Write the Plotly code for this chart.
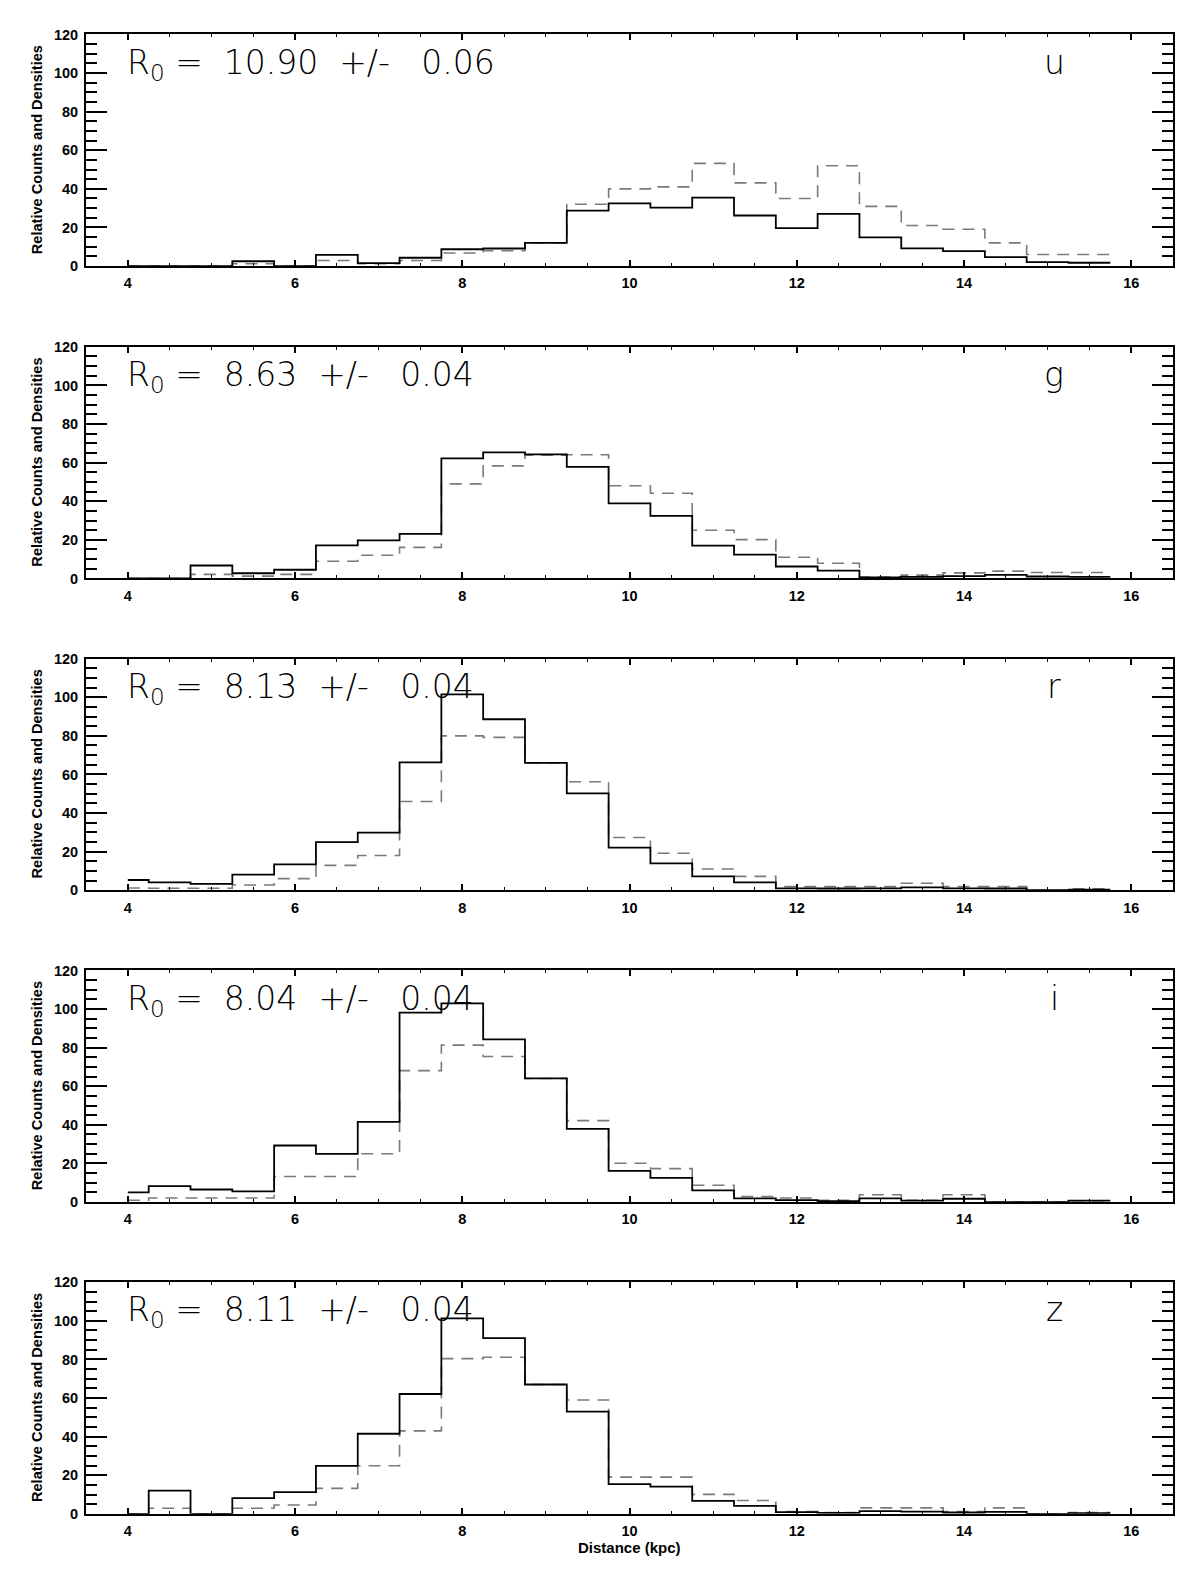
import plotly.graph_objects as go

# ---------------- data ----------------
centers = [4.0, 4.5, 5.0, 5.5, 6.0, 6.5, 7.0, 7.5, 8.0, 8.5, 9.0, 9.5,
           10.0, 10.5, 11.0, 11.5, 12.0, 12.5, 13.0, 13.5, 14.0, 14.5, 15.0, 15.5]

bands = ["u", "g", "r", "i", "z"]
r0_values = ["10.90", "8.63", "8.13", "8.04", "8.11"]
r0_errors = ["0.06", "0.04", "0.04", "0.04", "0.04"]

u_solid = [0, 0, 0, 2.5, 0, 5.8, 1.5, 4.3, 8.7, 9.1, 12.0, 28.7,
           32.5, 30.3, 35.4, 26.2, 19.7, 27.0, 14.9, 9.2, 7.7, 4.6, 2.0, 1.7]
u_dashed = [0, 0, 0, 1.2, 0, 2.9, 1.2, 2.9, 6.8, 7.9, 12.0, 32.0,
            40.0, 41.0, 53.2, 43.1, 35.0, 52.0, 30.9, 21.0, 19.1, 12.0, 6.0, 6.0]

g_solid = [0, 0, 6.7, 2.7, 4.5, 17.1, 19.7, 23.1, 62.2, 65.3, 64.3, 57.8,
           38.9, 32.4, 17.0, 12.3, 6.2, 4.1, 0.5, 0.8, 1.2, 1.8, 1.0, 0.8]
g_dashed = [0, 0, 2.1, 1.2, 2.1, 8.9, 12.0, 16.1, 49.0, 58.3, 63.8, 64.1,
            48.0, 44.1, 25.0, 20.1, 11.0, 7.9, 0.7, 1.7, 2.9, 3.8, 3.1, 3.1]

r_solid = [5.3, 4.1, 3.3, 8.1, 13.4, 24.9, 29.8, 66.2, 101.5, 88.6, 66.0, 50.2,
           22.1, 13.9, 7.2, 4.1, 1.0, 0.9, 1.0, 1.5, 1.0, 0.9, 0, 0.3]
r_dashed = [1.2, 1.0, 1.0, 2.7, 6.0, 12.9, 18.0, 46.0, 80.0, 79.2, 66.0, 56.2,
            27.3, 19.2, 11.0, 7.2, 1.9, 1.9, 1.9, 3.6, 1.9, 1.9, 0, 0.7]

i_solid = [5.0, 8.2, 6.5, 5.5, 29.3, 25.0, 41.5, 98.1, 102.9, 84.3, 64.1, 37.9,
           16.1, 12.5, 6.0, 1.9, 1.0, 0.5, 1.9, 0.7, 1.7, 0, 0, 0.7]
i_dashed = [0.9, 2.1, 2.1, 2.1, 13.2, 13.2, 25.0, 68.1, 81.3, 75.4, 64.0, 42.2,
            20.1, 17.3, 8.7, 2.9, 2.1, 0.9, 3.8, 0.9, 3.8, 0, 0, 0.7]

z_solid = [0, 12.0, 0, 8.1, 11.3, 24.9, 41.5, 62.1, 101.3, 91.0, 67.0, 53.0,
           15.4, 14.1, 6.7, 4.1, 0.9, 0.5, 1.4, 1.2, 0.7, 1.0, 0, 0.3]
z_dashed = [0, 2.9, 0, 2.9, 4.6, 13.2, 24.9, 43.0, 80.4, 81.1, 67.0, 59.0,
            19.0, 19.0, 10.1, 6.9, 1.2, 0.7, 3.1, 3.1, 1.2, 3.1, 0, 0.7]

solid_series = [u_solid, g_solid, r_solid, i_solid, z_solid]
dashed_series = [u_dashed, g_dashed, r_dashed, i_dashed, z_dashed]

y_title = "Relative Counts and Densities"
x_title = "Distance (kpc)"

# ---------------- layout geometry (pixels) ----------------
W, H = 1200, 1575
left_px, right_px = 86, 1173
tops_px = [26.7, 342.3, 657.3, 972.3, 1287.3]
panel_h = 234.0

def px_x(p):
    return p / W

def px_y(p):
    return 1 - p / H

def step_xy(c, v):
    half = (c[1] - c[0]) / 2.0
    xs = [c[0]] + [cc + half for cc in c]
    ys = list(v) + [v[-1]]
    return xs, ys

fig = go.Figure()

small_family = "Liberation Sans, Arial, sans-serif"
tick_font = dict(family=small_family, size=14.5, color="black", weight="bold")
big_font = dict(family="DejaVu Sans, sans-serif", size=33, color="black", weight=300)

annotations = []
for k in range(5):
    ax = "" if k == 0 else str(k + 1)
    xs, ys = step_xy(centers, dashed_series[k])
    fig.add_trace(go.Scatter(x=xs, y=ys, mode="lines",
                             line=dict(shape="hv", color="#7a7a7a", width=1.6, dash="12px,8px"),
                             xaxis="x" + ax, yaxis="y" + ax, showlegend=False, hoverinfo="skip"))
    xs, ys = step_xy(centers, solid_series[k])
    fig.add_trace(go.Scatter(x=xs, y=ys, mode="lines",
                             line=dict(shape="hv", color="black", width=1.8),
                             xaxis="x" + ax, yaxis="y" + ax, showlegend=False, hoverinfo="skip"))

    top = tops_px[k]
    bot = top + panel_h
    fig.layout["xaxis" + ax] = dict(
        domain=[px_x(left_px), px_x(right_px)], anchor="y" + ax,
        range=[3.5, 16.5], tick0=4, dtick=2,
        showline=True, linecolor="black", linewidth=2, mirror="allticks",
        ticks="inside", ticklen=6, tickwidth=1.5, tickcolor="black",
        minor=dict(dtick=0.5, tick0=0, ticks="inside", ticklen=3, tickwidth=1.2, tickcolor="black"),
        showgrid=False, zeroline=False, tickfont=tick_font, ticklabelstandoff=3,
    )
    fig.layout["yaxis" + ax] = dict(
        domain=[px_y(bot), px_y(top)], anchor="x" + ax,
        range=[0, 120], tick0=0, dtick=20,
        showline=True, linecolor="black", linewidth=2, mirror="allticks",
        ticks="inside", ticklen=21, tickwidth=2, tickcolor="black",
        minor=dict(dtick=5, tick0=0, ticks="inside", ticklen=11, tickwidth=1.5, tickcolor="black"),
        showgrid=False, zeroline=False, tickfont=tick_font, ticklabelstandoff=3,
    )

    annotations.append(dict(
        text="R<sub>0</sub> =  " + r0_values[k] + "  +/-   " + r0_errors[k],
        x=px_x(125), y=px_y(top + 30), xref="paper", yref="paper",
        xanchor="left", yanchor="middle", showarrow=False, font=big_font))
    annotations.append(dict(
        text=bands[k], x=px_x(1054), y=px_y(top + 28), xref="paper", yref="paper",
        xanchor="center", yanchor="middle", showarrow=False, font=big_font))
    annotations.append(dict(
        text=y_title, x=px_x(37), y=px_y(top + panel_h / 2), xref="paper", yref="paper",
        xanchor="center", yanchor="middle", textangle=-90, showarrow=False,
        font=dict(family=small_family, size=14.6, color="black", weight="bold")))

annotations.append(dict(
    text=x_title, x=px_x((left_px + right_px) / 2), y=px_y(1555), xref="paper", yref="paper",
    xanchor="center", yanchor="middle", showarrow=False,
    font=dict(family=small_family, size=15, color="black", weight="bold")))

fig.update_layout(
    width=W, height=H, margin=dict(l=0, r=0, t=0, b=0),
    paper_bgcolor="white", plot_bgcolor="white",
    annotations=annotations, showlegend=False,
)

fig.write_html("out.html")
